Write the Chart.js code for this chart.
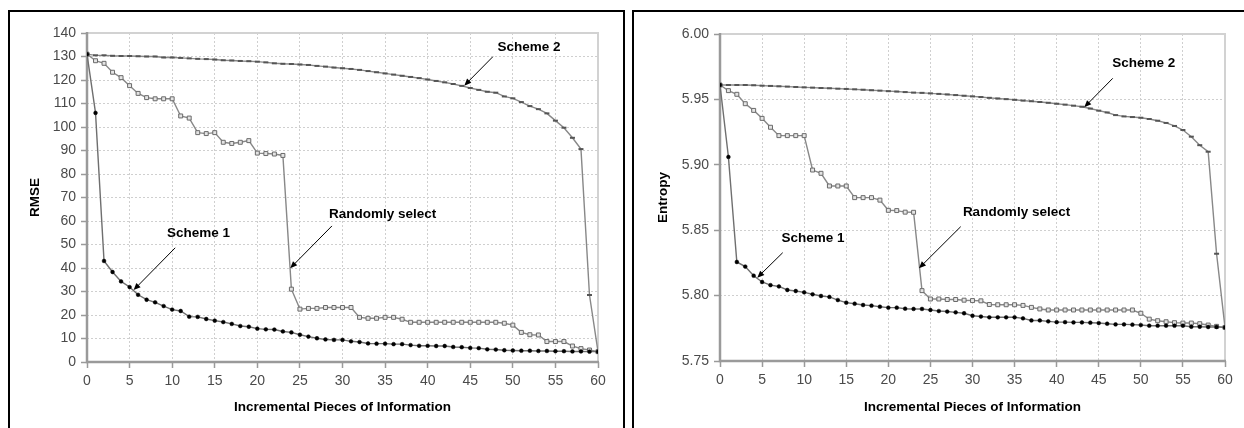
<!DOCTYPE html>
<html>
<head>
<meta charset="utf-8">
<script src="https://cdn.jsdelivr.net/npm/chart.js@4.4.1/dist/chart.umd.min.js"></script>
<style>
  html, body { margin:0; padding:0; background:#fff; width:1244px; height:428px; overflow:hidden; }
  .wrap { position:absolute; top:0; width:622px; height:428px; }
  .frame { position:absolute; border:2px solid #000; box-sizing:border-box; pointer-events:none; }
</style>
</head>
<body>
<div class="wrap" style="left:0"><canvas id="c1" width="622" height="428"></canvas></div>
<div class="wrap" style="left:622px"><canvas id="c2" width="622" height="428"></canvas></div>
<div class="frame" style="left:8px; top:10px; width:617px; height:500px;"></div>
<div class="frame" style="left:632px; top:10px; width:700px; height:500px;"></div>
<script>
// ---------- data ----------
const pieces = [0,1,2,3,4,5,6,7,8,9,10,11,12,13,14,15,16,17,18,19,20,21,22,23,24,25,26,27,28,29,30,
  31,32,33,34,35,36,37,38,39,40,41,42,43,44,45,46,47,48,49,50,51,52,53,54,55,56,57,58,59,60];

const rmseScheme1 = [131,106,43,38.3,34.3,31.9,28.6,26.5,25.4,23.8,22.3,21.7,19.3,19.2,18.3,17.6,17,16.2,15.3,15,14.2,
  13.9,13.8,13,12.6,11.6,10.8,10.1,9.6,9.4,9.4,8.8,8.5,7.9,7.8,7.8,7.6,7.6,7.2,6.9,6.9,
  6.8,6.8,6.4,6.3,6,5.9,5.4,5.3,5,4.9,4.8,4.8,4.7,4.7,4.6,4.6,4.5,4.5,4.4,4.4];
const rmseRandom = [131,128.2,127.1,123.3,121,117.6,114.3,112.5,112,112,112,104.7,103.8,97.6,97.2,97.6,93.5,93,93.5,94.2,88.9,
  88.7,88.5,87.9,31,22.5,22.8,22.8,23.2,23.2,23.2,23.2,19,18.6,18.6,19,19,18.2,16.9,16.9,16.9,
  16.9,16.9,16.9,16.9,16.9,16.9,16.9,16.9,16.5,15.7,12.6,11.6,11.5,8.7,8.7,8.7,6.8,5.7,5.1,4.4];
const rmseScheme2 = [131,130.5,130.5,130.3,130.2,130.2,130.1,130,130,129.6,129.6,129.4,129.2,129,128.9,128.7,128.4,128.3,128.1,128,127.8,
  127.5,127.1,126.9,126.8,126.6,126.4,126,125.7,125.3,125,124.7,124.3,123.8,123.3,122.8,122.3,121.8,121.3,120.8,120.2,
  119.6,119,118.3,117.5,116.6,115.8,115,114.6,113,112.2,110.6,108.9,107.6,105.8,102.7,99.7,95.4,90.6,28.5,4.4];

const entScheme1 = [5.961,5.906,5.8257,5.8222,5.8152,5.8104,5.808,5.807,5.8043,5.8035,5.8025,5.801,5.7997,5.799,5.7966,5.7946,5.7938,5.7928,5.7923,5.7915,5.7908,
  5.7908,5.790,5.7898,5.7898,5.789,5.7882,5.7878,5.7872,5.7865,5.7846,5.784,5.7834,5.7834,5.7834,5.7834,5.7826,5.781,5.781,5.7803,5.7797,
  5.7797,5.7795,5.7795,5.7793,5.779,5.7785,5.778,5.778,5.7778,5.7775,5.777,5.777,5.777,5.777,5.777,5.7762,5.7762,5.776,5.776,5.7757];
const entRandom = [5.961,5.9567,5.9539,5.9467,5.9416,5.9355,5.9287,5.9223,5.9223,5.9223,5.9223,5.896,5.8935,5.8838,5.8838,5.8838,5.8749,5.8749,5.8749,5.873,5.8652,
  5.865,5.8638,5.8637,5.8038,5.7974,5.7974,5.797,5.797,5.7965,5.7962,5.796,5.7932,5.793,5.793,5.793,5.7925,5.791,5.7898,5.789,5.789,
  5.789,5.789,5.789,5.789,5.789,5.789,5.789,5.789,5.789,5.7865,5.782,5.7808,5.78,5.7793,5.779,5.779,5.7785,5.7775,5.7765,5.7757];
const entScheme2 = [5.961,5.961,5.961,5.961,5.9608,5.9605,5.9603,5.960,5.9598,5.9595,5.9592,5.959,5.9587,5.9585,5.9582,5.958,5.9577,5.9574,5.957,5.9567,5.9563,
  5.956,5.9556,5.9552,5.955,5.9546,5.9542,5.9538,5.9533,5.9528,5.9523,5.9518,5.9512,5.9507,5.9502,5.9497,5.9491,5.9486,5.948,5.9474,5.9467,
  5.946,5.9452,5.9444,5.943,5.9414,5.94,5.938,5.937,5.9365,5.936,5.935,5.9337,5.932,5.9297,5.9266,5.9215,5.915,5.91,5.832,5.7757];

const seriesNames = ['Scheme 1', 'Randomly select', 'Scheme 2'];
const xTitle = 'Incremental Pieces of Information';
const rmseTitle = 'RMSE';
const entTitle = 'Entropy';

// annotations: label and arrow in data coordinates
const rmseNotes = [
  { text:'Scheme 2', at:[51.9,134], from:[47.65,129.9], to:[44.3,117.6] },
  { text:'Randomly select', at:[34.7,63], from:[28.76,57.9], to:[23.86,39.9] },
  { text:'Scheme 1', at:[13.1,54.9], from:[10.36,48.6], to:[5.47,30.6] }
];
const entNotes = [
  { text:'Scheme 2', at:[50.35,5.9778], from:[46.66,5.9661], to:[43.28,5.944] },
  { text:'Randomly select', at:[35.23,5.8637], from:[28.6,5.8527], to:[23.64,5.8209] },
  { text:'Scheme 1', at:[11.05,5.8438], from:[7.45,5.8328], to:[4.43,5.8137] }
];

// ---------- drawing ----------
const FONT = "'Liberation Sans', Arial, Helvetica, sans-serif";

const decor = {
  id: 'decor',
  beforeDatasetsDraw(chart, args, o) {
    const { ctx, chartArea: { left, right, top, bottom } } = chart;
    ctx.save();
    ctx.lineWidth = 2;
    ctx.strokeStyle = '#d2d2d2';
    ctx.beginPath(); ctx.moveTo(left, top); ctx.lineTo(right, top); ctx.lineTo(right, bottom); ctx.stroke();
    ctx.strokeStyle = '#9a9a9a';
    ctx.lineWidth = 2.5;
    ctx.beginPath(); ctx.moveTo(left, top - 1); ctx.lineTo(left, bottom); ctx.lineTo(right + 1, bottom); ctx.stroke();
    ctx.restore();
  },
  afterDraw(chart, args, o) {
    const { ctx, chartArea: { left, right, top, bottom } } = chart;
    const xs = chart.scales.x, ys = chart.scales.y;
    ctx.save();
    ctx.fillStyle = '#000';
    ctx.font = 'bold 13.5px ' + FONT;
    ctx.textAlign = 'center';
    ctx.textBaseline = 'middle';
    ctx.fillText(o.xTitle, (left + right) / 2, 407);
    ctx.save();
    ctx.translate(o.yTitleX, (top + bottom) / 2);
    ctx.rotate(-Math.PI / 2);
    ctx.fillText(o.yTitle, 0, 0);
    ctx.restore();
    for (const n of o.notes) {
      ctx.fillStyle = '#000';
      ctx.font = 'bold 13.5px ' + FONT;
      ctx.fillText(n.text, xs.getPixelForValue(n.at[0]), ys.getPixelForValue(n.at[1]));
      const x1 = xs.getPixelForValue(n.from[0]), y1 = ys.getPixelForValue(n.from[1]);
      const x2 = xs.getPixelForValue(n.to[0]), y2 = ys.getPixelForValue(n.to[1]);
      const a = Math.atan2(y2 - y1, x2 - x1);
      ctx.strokeStyle = '#000';
      ctx.lineWidth = 1;
      ctx.beginPath(); ctx.moveTo(x1, y1); ctx.lineTo(x2 - 4 * Math.cos(a), y2 - 4 * Math.sin(a)); ctx.stroke();
      const L = 7, W = 3;
      ctx.beginPath();
      ctx.moveTo(x2, y2);
      ctx.lineTo(x2 - L * Math.cos(a) + W * Math.sin(a), y2 - L * Math.sin(a) - W * Math.cos(a));
      ctx.lineTo(x2 - L * Math.cos(a) - W * Math.sin(a), y2 - L * Math.sin(a) + W * Math.cos(a));
      ctx.closePath();
      ctx.fill();
    }
    ctx.restore();
  }
};

function pts(arr) { return arr.map((v, i) => ({ x: pieces[i], y: v })); }

function makeChart(id, s1, sr, s2, yOpts, layout) {
  const grid = { color: '#cfcfcf', lineWidth: 1, tickLength: 6, tickColor: '#9a9a9a', tickWidth: 1.5 };
  return new Chart(document.getElementById(id), {
    type: 'line',
    data: {
      datasets: [
        { label: seriesNames[0], data: pts(s1), borderColor: '#6f6f6f', borderWidth: 1.4,
          pointStyle: 'circle', pointRadius: 1.9, pointBackgroundColor: '#000', pointBorderColor: '#000', pointBorderWidth: 0.5 },
        { label: seriesNames[1], data: pts(sr), borderColor: '#888', borderWidth: 1.4,
          pointStyle: 'rect', pointRadius: 2.8, pointBackgroundColor: '#e4e4e4', pointBorderColor: '#6a6a6a', pointBorderWidth: 1 },
        { label: seriesNames[2], data: pts(s2), borderColor: '#888', borderWidth: 1.4,
          pointStyle: 'line', pointRadius: 2.5, pointBorderColor: '#555', pointBorderWidth: 2 }
      ]
    },
    options: {
      responsive: false, animation: false, devicePixelRatio: 1,
      layout: { padding: { left: 0, top: layout.top, right: layout.right, bottom: 0 } },
      plugins: {
        legend: { display: false }, tooltip: { enabled: false },
        decor: { xTitle: xTitle, yTitle: yOpts.title, yTitleX: layout.yTitleX, notes: yOpts.notes }
      },
      elements: { line: { tension: 0 } },
      scales: {
        x: {
          type: 'linear', min: 0, max: 60,
          ticks: { stepSize: 5, color: '#4a4a4a', padding: 5, font: { family: FONT, size: 14 }, maxRotation: 0 },
          grid: grid,
          border: { display: false, dash: [2, 2] },
          afterFit: (s) => { s.height = layout.xH; }
        },
        y: {
          min: yOpts.min, max: yOpts.max,
          ticks: { stepSize: yOpts.step, color: '#4a4a4a', padding: 5, font: { family: FONT, size: 14 }, callback: yOpts.fmt },
          grid: grid,
          border: { display: false, dash: [2, 2] },
          afterFit: (s) => { s.width = layout.yW; }
        }
      }
    },
    plugins: [decor]
  });
}

makeChart('c1', rmseScheme1, rmseRandom, rmseScheme2,
  { min: 0, max: 140, step: 10, fmt: (v) => String(Math.round(v)), title: rmseTitle, notes: rmseNotes },
  { top: 33, right: 24, xH: 66, yW: 87, yTitleX: 35 });

makeChart('c2', entScheme1, entRandom, entScheme2,
  { min: 5.75, max: 6.0, step: 0.05, fmt: (v) => v.toFixed(2), title: entTitle, notes: entNotes },
  { top: 34, right: 19, xH: 67, yW: 98, yTitleX: 41 });
</script>
</body>
</html>
